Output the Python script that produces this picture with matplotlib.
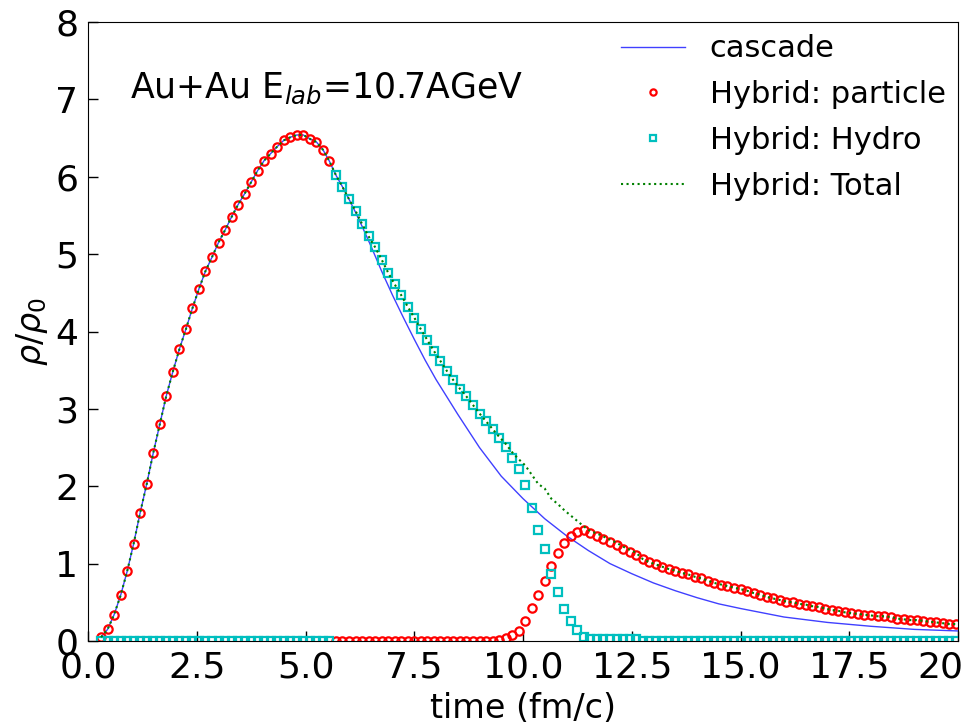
import matplotlib
matplotlib.use('Agg')
import matplotlib.pyplot as plt
import numpy as np

# time grid of the hybrid output (step 0.15 fm/c, first step k=2)
time = np.arange(2, 134) * 0.15

particle = ([0.05, 0.15, 0.34, 0.59, 0.90, 1.26, 1.66, 2.03, 2.43, 2.80,
             3.17, 3.48, 3.77, 4.03, 4.30, 4.55, 4.78, 4.96, 5.15, 5.31,
             5.48, 5.64, 5.78, 5.93, 6.08, 6.21, 6.30, 6.39, 6.47, 6.51,
             6.54, 6.54, 6.49, 6.45, 6.35, 6.20]
            + [0.0] * 25
            + [0.01, 0.04, 0.08, 0.13, 0.26, 0.43, 0.60, 0.78, 0.97, 1.14,
               1.27, 1.36, 1.41, 1.43]
            + [1.39, 1.36, 1.32, 1.28, 1.24, 1.19, 1.15, 1.11, 1.06, 1.02,
               0.99, 0.96, 0.93, 0.91, 0.88, 0.86, 0.83, 0.81, 0.78, 0.75,
               0.73, 0.71, 0.69, 0.67, 0.65, 0.62, 0.60, 0.57, 0.55, 0.53,
               0.51, 0.50, 0.48, 0.47, 0.45, 0.44, 0.42, 0.40, 0.39, 0.37,
               0.36, 0.35, 0.34, 0.33, 0.32, 0.32, 0.31, 0.29, 0.28, 0.27,
               0.27, 0.26, 0.25, 0.24, 0.23, 0.22, 0.22])

hydro = ([0.0] * 36
         + [6.02, 5.87, 5.71, 5.56, 5.39, 5.23, 5.09, 4.93, 4.76, 4.61,
            4.47, 4.32, 4.18, 4.03, 3.89, 3.75, 3.62, 3.49, 3.37, 3.26,
            3.16, 3.05, 2.94, 2.84, 2.74, 2.63, 2.51, 2.36, 2.22, 2.01,
            1.72, 1.43, 1.19, 0.87, 0.63, 0.42, 0.26, 0.14, 0.05]
         + [0.03] * 8
         + [0.0] * 49)

casc_t = [0.30, 0.45, 0.60, 0.75, 0.90, 1.05, 1.20, 1.35, 1.50, 1.65,
          1.80, 1.95, 2.10, 2.25, 2.40, 2.55, 2.70, 2.85, 3.00, 3.15,
          3.30, 3.45, 3.60, 3.75, 3.90, 4.05, 4.20, 4.35, 4.50, 4.65,
          4.80, 4.95, 5.10, 5.25, 5.40, 5.55, 5.70, 5.85, 6.00, 6.15,
          6.30, 6.50, 6.75, 7.00, 7.25, 7.50, 7.75, 8.00, 8.50, 9.00,
          9.50, 10.0, 10.5, 11.0, 11.5, 12.0, 12.5, 13.0, 13.5, 14.0,
          14.5, 15.0, 16.0, 17.0, 18.0, 19.0, 20.0]
cascade = [0.05, 0.15, 0.34, 0.59, 0.90, 1.26, 1.66, 2.03, 2.43, 2.80,
           3.17, 3.48, 3.77, 4.03, 4.30, 4.55, 4.78, 4.96, 5.15, 5.31,
           5.48, 5.64, 5.78, 5.93, 6.08, 6.21, 6.30, 6.39, 6.47, 6.51,
           6.54, 6.54, 6.49, 6.45, 6.35, 6.20, 6.02, 5.87, 5.71, 5.54,
           5.36, 5.11, 4.78, 4.47, 4.18, 3.90, 3.63, 3.38, 2.93, 2.50,
           2.13, 1.84, 1.58, 1.36, 1.17, 1.00, 0.87, 0.75, 0.65, 0.56,
           0.48, 0.42, 0.31, 0.24, 0.19, 0.15, 0.13]

total = np.array(particle) + np.array(hydro)


def plot_density():
    fig = plt.figure(figsize=(9.66, 7.24), dpi=100)
    ax = fig.add_axes([88 / 966, 83 / 724, 870 / 966, 619 / 724])

    ax.plot(casc_t, cascade, color='b', lw=1, alpha=0.75, label='cascade')
    ax.plot(time, particle, 'o', color='r', mfc='none', ms=6, mew=1.6,
            label='Hybrid: particle')
    ax.plot(time, hydro, 's', color='c', mfc='none', ms=6, mew=1.6,
            label='Hybrid: Hydro')
    ax.plot(time, total, ':', color='g', lw=1.5, label='Hybrid: Total')

    ax.text(0.97, 7.14, 'Au+Au E$_{lab}$=10.7AGeV', fontsize=25,
            va='center')

    ax.set_xlim(0, 20)
    ax.set_ylim(0, 8)
    ax.set_xticks(np.arange(0, 20.1, 2.5))
    ax.set_yticks(np.arange(0, 9, 1))
    ax.xaxis.set_major_formatter(matplotlib.ticker.FormatStrFormatter('%.1f'))
    ax.tick_params(direction='in', length=7, width=1, labelsize=26, pad=7)

    ax.set_xlabel('time (fm/c)', fontsize=24, labelpad=5)
    ax.set_ylabel(r'$\rho/\rho_0$', fontsize=24, labelpad=4)

    ax.legend(loc='upper right', frameon=False, fontsize=22,
              handlelength=2.1, handletextpad=0.8, labelspacing=0.55,
              markerscale=0.75, borderaxespad=0.0)

    fig.savefig('out.png', dpi=100)


if __name__ == '__main__':
    plot_density()
